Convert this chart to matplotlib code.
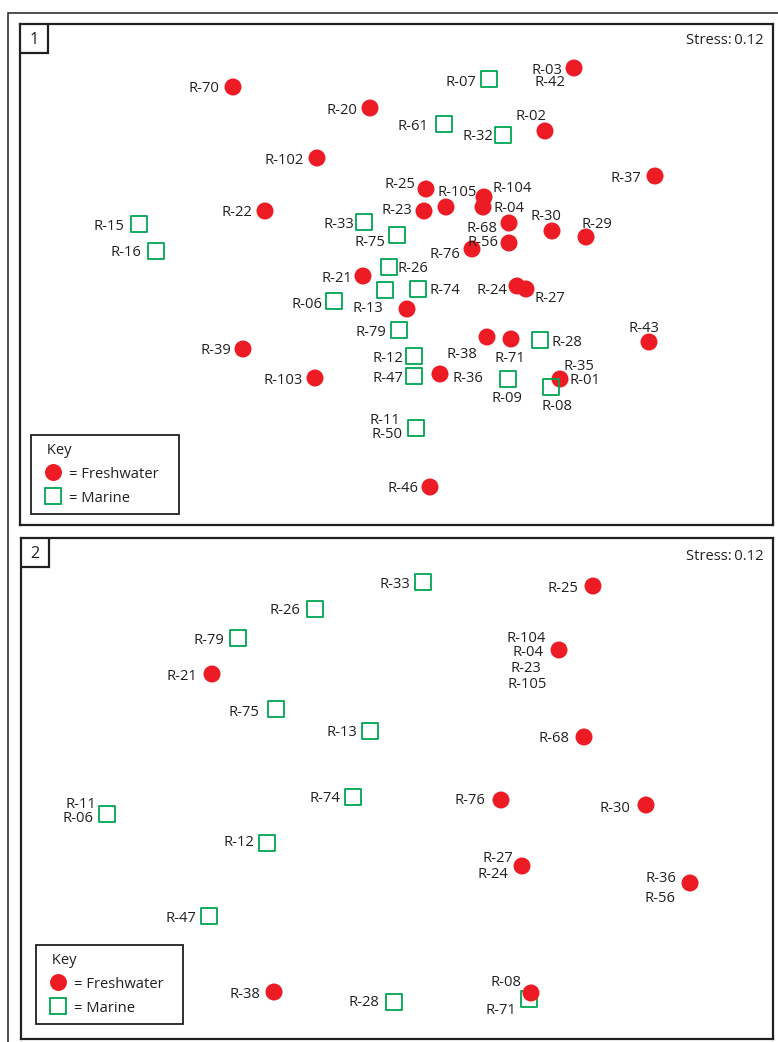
import matplotlib
matplotlib.use("Agg")
import matplotlib.pyplot as plt
from matplotlib.lines import Line2D
from matplotlib.patches import Rectangle

# ---------------- data (NMDS positions, arbitrary units) ----------------
# Panel 1
P1_IDS = ["R-70", "R-20", "R-102", "R-22", "R-03", "R-02", "R-37", "R-25", "R-105",
          "R-104", "R-04", "R-23", "R-68", "R-30", "R-29", "R-56", "R-76", "R-21",
          "R-13c", "R-24", "R-27", "R-38", "R-71", "R-43", "R-01", "R-36", "R-39",
          "R-103", "R-46",
          "R-07", "R-61", "R-32", "R-15", "R-16", "R-33", "R-75", "R-26", "sq",
          "R-74", "R-06", "R-79", "R-12", "R-47", "R-11", "R-28", "R-09", "R-08"]
P1_X = [213, 350, 297, 245, 554, 525, 635, 406, 426, 464, 463, 404, 489, 532, 566,
        489, 452, 343, 387, 497, 506, 467, 491, 629, 540, 420, 223, 295, 410,
        469, 424, 483, 119, 136, 344, 377, 369, 365, 398, 314, 379, 394, 394, 396,
        520, 488, 531]
P1_Y = [438, 417, 367, 314, 457, 394, 349, 336, 318, 328, 318, 314, 302, 294, 288,
        282, 276, 249, 216, 239, 236, 188, 186, 183, 146, 151, 176, 147, 38,
        446, 401, 390, 301, 274, 303, 290, 258, 235, 236, 224, 195, 169, 149, 97,
        185, 146, 138]
P1_TYPE = ["Freshwater"] * 29 + ["Marine"] * 18

# Panel 2
P2_IDS = ["R-25", "R-04", "R-68", "R-21", "R-76", "R-30", "R-27", "R-36", "R-08",
          "R-38",
          "R-33", "R-26", "R-79", "R-75", "R-13", "R-74", "R-11", "R-12", "R-47",
          "R-28", "R-71"]
P2_X = [572, 538, 563, 191, 480, 625, 501, 669, 510, 253,
        402, 294, 217, 255, 349, 332, 86, 246, 188, 373, 508]
P2_Y = [453, 389, 302, 365, 239, 234, 173, 156, 46, 47,
        457, 430, 401, 330, 308, 242, 225, 196, 123, 37, 40]
P2_TYPE = ["Freshwater"] * 10 + ["Marine"] * 11

STRESS = [0.12, 0.12]

# label text, anchor point, dx, dy (pixels, +dy = down), horizontal alignment
P1_LABELS = [
    ("R-70", "R-70", -14, 0, "right"), ("R-20", "R-20", -13, 0, "right"),
    ("R-102", "R-102", -13, 0, "right"), ("R-22", "R-22", -13, 0, "right"),
    ("R-03", "R-03", -12, 0, "right"), ("R-42", "R-03", -9, 13, "right"),
    ("R-02", "R-02", -14, -16, "center"), ("R-37", "R-37", -14, 0, "right"),
    ("R-25", "R-25", -11, -6, "right"), ("R-105", "R-105", 11, -16, "center"),
    ("R-104", "R-104", 9, -11, "left"), ("R-04", "R-04", 11, 0, "left"),
    ("R-23", "R-23", -12, -2, "right"), ("R-68", "R-68", -11, 4, "right"),
    ("R-30", "R-30", -6, -16, "center"), ("R-29", "R-29", 11, -15, "center"),
    ("R-56", "R-56", -10, -2, "right"), ("R-76", "R-76", -12, 3, "right"),
    ("R-21", "R-21", -11, 0, "right"), ("R-13", "R-13c", -24, -2, "right"),
    ("R-24", "R-24", -10, 2, "right"), ("R-27", "R-27", 9, 7, "left"),
    ("R-38", "R-38", -25, 15, "center"), ("R-71", "R-71", -1, 17, "center"),
    ("R-43", "R-43", -5, -16, "center"), ("R-35", "R-01", 19, -15, "center"),
    ("R-01", "R-01", 10, -1, "left"), ("R-36", "R-36", 13, 3, "left"),
    ("R-39", "R-39", -12, 0, "right"), ("R-103", "R-103", -12, 0, "right"),
    ("R-46", "R-46", -11, 0, "right"),
    ("R-07", "R-07", -13, 1, "right"), ("R-61", "R-61", -16, 0, "right"),
    ("R-32", "R-32", -10, 0, "right"), ("R-15", "R-15", -15, 0, "right"),
    ("R-16", "R-16", -15, 0, "right"), ("R-33", "R-33", -10, 1, "right"),
    ("R-75", "R-75", -12, 5, "right"), ("R-26", "R-26", 9, 0, "left"),
    ("R-74", "R-74", 12, 0, "left"), ("R-06", "R-06", -11, 2, "right"),
    ("R-79", "R-79", -13, 1, "right"), ("R-12", "R-12", -11, 1, "right"),
    ("R-47", "R-47", -11, 1, "right"), ("R-11", "R-11", -16, -10, "right"),
    ("R-50", "R-11", -13, 4, "right"), ("R-28", "R-28", 12, 1, "left"),
    ("R-09", "R-09", -1, 18, "center"), ("R-08", "R-08", 6, 17, "center"),
]
P2_LABELS = [
    ("R-25", "R-25", -15, 1, "right"),
    ("R-104", "R-04", -33, -14, "center"), ("R-04", "R-04", -31, 0, "center"),
    ("R-23", "R-04", -33, 16, "center"), ("R-105", "R-04", -32, 33, "center"),
    ("R-68", "R-68", -15, 0, "right"), ("R-21", "R-21", -15, 0, "right"),
    ("R-76", "R-76", -16, -1, "right"), ("R-30", "R-30", -16, 1, "right"),
    ("R-27", "R-27", -9, -9, "right"), ("R-24", "R-27", -14, 7, "right"),
    ("R-36", "R-36", -14, -6, "right"), ("R-56", "R-36", -14, 13, "right"),
    ("R-08", "R-08", -9, -13, "right"), ("R-38", "R-38", -14, 1, "right"),
    ("R-33", "R-33", -13, 0, "right"), ("R-26", "R-26", -15, 0, "right"),
    ("R-79", "R-79", -14, 0, "right"), ("R-75", "R-75", -17, 1, "right"),
    ("R-13", "R-13", -13, 0, "right"), ("R-74", "R-74", -13, 0, "right"),
    ("R-11", "R-11", -11, -12, "right"), ("R-06", "R-11", -13, 3, "right"),
    ("R-12", "R-12", -13, -2, "right"), ("R-47", "R-47", -13, 1, "right"),
    ("R-28", "R-28", -15, -1, "right"), ("R-71", "R-71", -13, 10, "right"),
]

# ---------------- style ----------------
FONT = ["Open Sans", "DejaVu Sans"]
plt.rcParams["font.family"] = FONT
FS = 10.6
INK = "#231f20"
RED = "#ed1c24"
GREEN = "#00a651"
W, H = 778, 1042

fig = plt.figure(figsize=(W / 100, H / 100), dpi=100)

# outer frame (runs off the right and bottom edges)
fig.patches.append(Rectangle((8 / W, -0.05), 1.2, 1 - 13 / H + 0.05,
                             transform=fig.transFigure, fill=False,
                             ec=INK, lw=1.1, zorder=0))

panels = [
    dict(ids=P1_IDS, x=P1_X, y=P1_Y, t=P1_TYPE, labels=P1_LABELS,
         rect=(20, 24, 753, 501), num="1", order=["Freshwater", "Marine"],
         key=(11, 11, 148), stress_dy=14),
    dict(ids=P2_IDS, x=P2_X, y=P2_Y, t=P2_TYPE, labels=P2_LABELS,
         rect=(21, 538, 752, 501), num="2", order=["Marine", "Freshwater"],
         key=(15, 15, 147), stress_dy=16),
]

style = {
    "Freshwater": dict(marker="o", s=150, c=RED, edgecolors="none"),
    "Marine": dict(marker="s", s=118, facecolors="none", edgecolors=GREEN,
                   linewidths=1.3),
}

for pi, p in enumerate(panels):
    px, py, pw, ph = p["rect"]
    ax = fig.add_axes([px / W, 1 - (py + ph) / H, pw / W, ph / H])
    ax.set_xlim(0, pw)
    ax.set_ylim(0, ph)
    ax.set_xticks([])
    ax.set_yticks([])
    for sp in ax.spines.values():
        sp.set_linewidth(1.6)
        sp.set_color(INK)

    for grp in p["order"]:
        xs = [x for x, t in zip(p["x"], p["t"]) if t == grp]
        ys = [y for y, t in zip(p["y"], p["t"]) if t == grp]
        ax.scatter(xs, ys, zorder=3, **style[grp])

    pos = {i: (x, y) for i, x, y in zip(p["ids"], p["x"], p["y"])}
    for text, anchor, dx, dy, ha in p["labels"]:
        ax.annotate(text, xy=pos[anchor], xytext=(dx, -dy),
                    textcoords="offset pixels", ha=ha, va="center_baseline",
                    fontsize=FS, color=INK, zorder=4)

    # stress
    ax.text(1 - 10 / pw, 1 - p["stress_dy"] / ph,
            f"Stress:\u2009{STRESS[pi]:.2f}", transform=ax.transAxes,
            ha="right", va="center_baseline", fontsize=FS, color=INK)

    # panel number box
    ax.add_patch(Rectangle((0, 1 - 29 / ph), 28 / pw, 29 / ph,
                           transform=ax.transAxes, fill=True, fc="white",
                           ec=INK, lw=1.6, zorder=5))
    ax.text(14 / pw, 1 - 14.5 / ph, p["num"], transform=ax.transAxes,
            ha="center", va="center_baseline", fontsize=FS + 1, color=INK,
            zorder=6)

    # key
    handles = [
        Line2D([], [], ls="none", marker="o", markersize=12.2, color=RED,
               markeredgecolor="none", label="= Freshwater"),
        Line2D([], [], ls="none", marker="s", markersize=10.9,
               markerfacecolor="none", markeredgecolor=GREEN,
               markeredgewidth=1.3, label="= Marine"),
    ]
    kx, ky, kw = p["key"]
    leg = ax.legend(handles=handles, title="  Key", loc="lower left",
                    bbox_to_anchor=(kx / pw, ky / ph, kw / pw, 0.1),
                    mode="expand", fontsize=FS,
                    title_fontsize=FS, alignment="left", frameon=True,
                    fancybox=False, borderpad=0.55, handlelength=1.87,
                    handletextpad=0.15, labelspacing=0.55, borderaxespad=0,
                    handleheight=1.0)
    frame = leg.get_frame()
    frame.set_edgecolor(INK)
    frame.set_linewidth(1.3)
    frame.set_alpha(1)
    for t in leg.get_texts():
        t.set_color(INK)
    leg.get_title().set_color(INK)

fig.savefig("out.png", dpi=100)
